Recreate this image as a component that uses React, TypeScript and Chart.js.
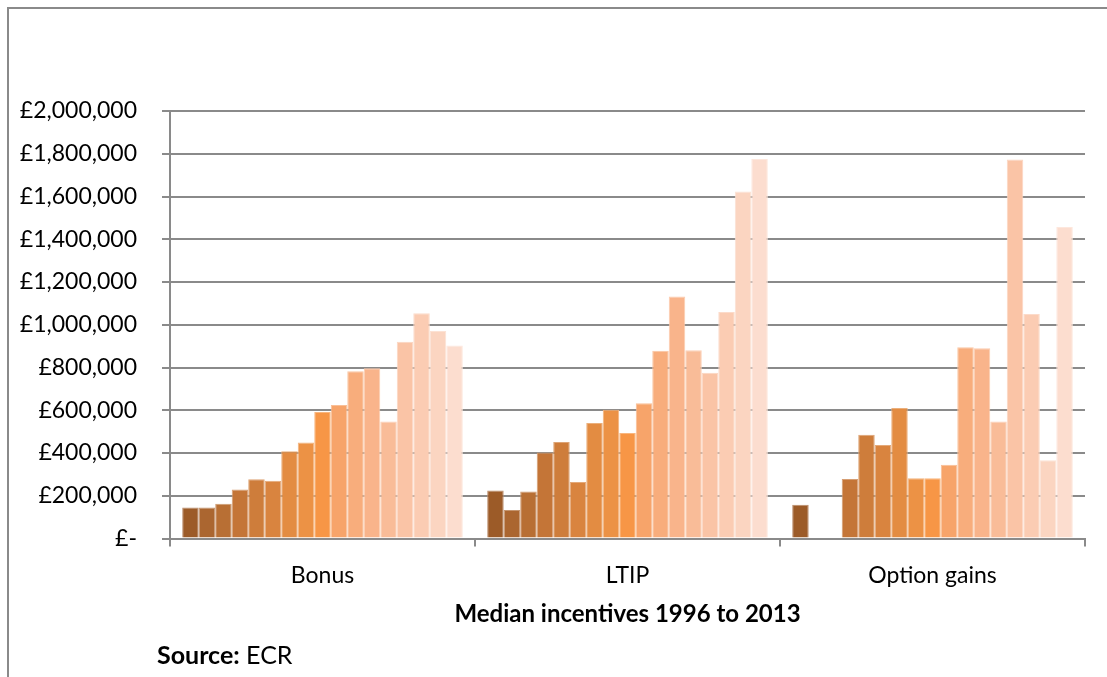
import { useEffect, useRef } from "react"
import { Chart, registerables } from "chart.js"

Chart.register(...registerables)

// categories on the x axis
const CATEGORIES = ["Bonus", "LTIP", "Option gains"]

// one bar per year, 17 series
const SERIES = [
  "1997", "1998", "1999", "2000", "2001", "2002", "2003", "2004", "2005",
  "2006", "2007", "2008", "2009", "2010", "2011", "2012", "2013",
]

const BONUS = [
  145000, 145000, 162000, 229000, 277000, 270000, 408000, 449000, 592000,
  624000, 782000, 797000, 547000, 921000, 1054000, 971000, 903000,
]
const LTIP = [
  225000, 133000, 220000, 402000, 451000, 264000, 540000, 602000, 494000,
  633000, 878000, 1132000, 881000, 775000, 1060000, 1623000, 1775000,
]
const OPTION_GAINS = [
  158000, null, null, 278000, 485000, 438000, 610000, 282000, 282000,
  345000, 895000, 890000, 547000, 1773000, 1050000, 366000, 1457000,
]

const COLORS = [
  "#9C5B28", "#AB6630", "#B86F34", "#C47537", "#CE7D3B", "#D9843F",
  "#E38C42", "#EC9245", "#F79646", "#F7A46A", "#F8AD7C", "#F9B48B",
  "#F9BC98", "#FAC4A6", "#FBCCB3", "#FBD5C1", "#FCDDCF",
]

const Y_MAX = 2000000
const Y_STEP = 200000

const FONT = "Lato, 'Open Sans', sans-serif"
const GREY = "#8a8a8a"

function money(v: number) {
  if (v === 0) return "£-"
  return "£" + v.toLocaleString("en-GB")
}

// faint lighter outline like the Excel bars
function lighter(hex: string, t: number) {
  const n = parseInt(hex.slice(1), 16)
  const r = (n >> 16) & 255, g = (n >> 8) & 255, b = n & 255
  const m = (c: number) => Math.round(c + (255 - c) * t)
  return `rgb(${m(r)},${m(g)},${m(b)})`
}

export default function App() {
  const canvasRef = useRef<HTMLCanvasElement | null>(null)

  useEffect(() => {
    if (!canvasRef.current) return

    const chart = new Chart(canvasRef.current, {
      type: "bar",
      data: {
        labels: CATEGORIES,
        datasets: SERIES.map((s, i) => ({
          label: s,
          data: [BONUS[i], LTIP[i], OPTION_GAINS[i]],
          backgroundColor: COLORS[i],
          borderColor: lighter(COLORS[i], 0.3),
          borderWidth: 1,
          categoryPercentage: 0.92,
          barPercentage: 1,
        })),
      },
      options: {
        responsive: false,
        animation: false,
        layout: { padding: { top: 111, right: 22, left: 0, bottom: 0 } },
        plugins: {
          legend: { display: false },
          tooltip: { enabled: false },
        },
        scales: {
          x: {
            grid: {
              offset: true,
              drawOnChartArea: false,
              drawTicks: true,
              tickLength: 8,
              color: GREY,
              lineWidth: 2,
            },
            border: { color: GREY, width: 2 },
            ticks: {
              color: "#000",
              padding: 15,
              font: { family: FONT, size: 23 },
            },
            title: {
              display: true,
              text: "Median incentives 1996 to 2013",
              color: "#000",
              font: { family: FONT, size: 24, weight: "bold" },
              padding: { top: 0, bottom: 48 },
            },
            afterFit: (scale: any) => {
              scale.height = 138.5
            },
          },
          y: {
            min: 0,
            max: Y_MAX,
            grid: {
              color: GREY,
              lineWidth: 2,
              tickLength: 8,
            },
            border: { color: GREY, width: 2 },
            ticks: {
              stepSize: Y_STEP,
              color: "#000",
              padding: 25,
              font: { family: FONT, size: 23 },
              callback: (v: any) => money(Number(v)),
            },
            afterFit: (scale: any) => {
              scale.width = 170
            },
          },
        },
      },
    })

    return () => chart.destroy()
  }, [])

  return (
    <>
      <style>{`
        body { margin: 0; }
        .wrap {
          position: relative;
          width: 1107px;
          height: 677px;
          background: #fff;
          overflow: hidden;
          font-family: ${FONT};
        }
        .frame {
          position: absolute;
          left: 7px;
          top: 7px;
          right: -4px;
          bottom: -4px;
          border-top: 2px solid ${GREY};
          border-left: 2px solid ${GREY};
          pointer-events: none;
        }
        .source {
          position: absolute;
          left: 157px;
          top: 639px;
          font-size: 25px;
          color: #000;
          white-space: nowrap;
        }
      `}</style>
      <div className="wrap">
        <canvas ref={canvasRef} width={1107} height={677} />
        <div className="frame" />
        <div className="source"><b>Source:</b> ECR</div>
      </div>
    </>
  )
}
